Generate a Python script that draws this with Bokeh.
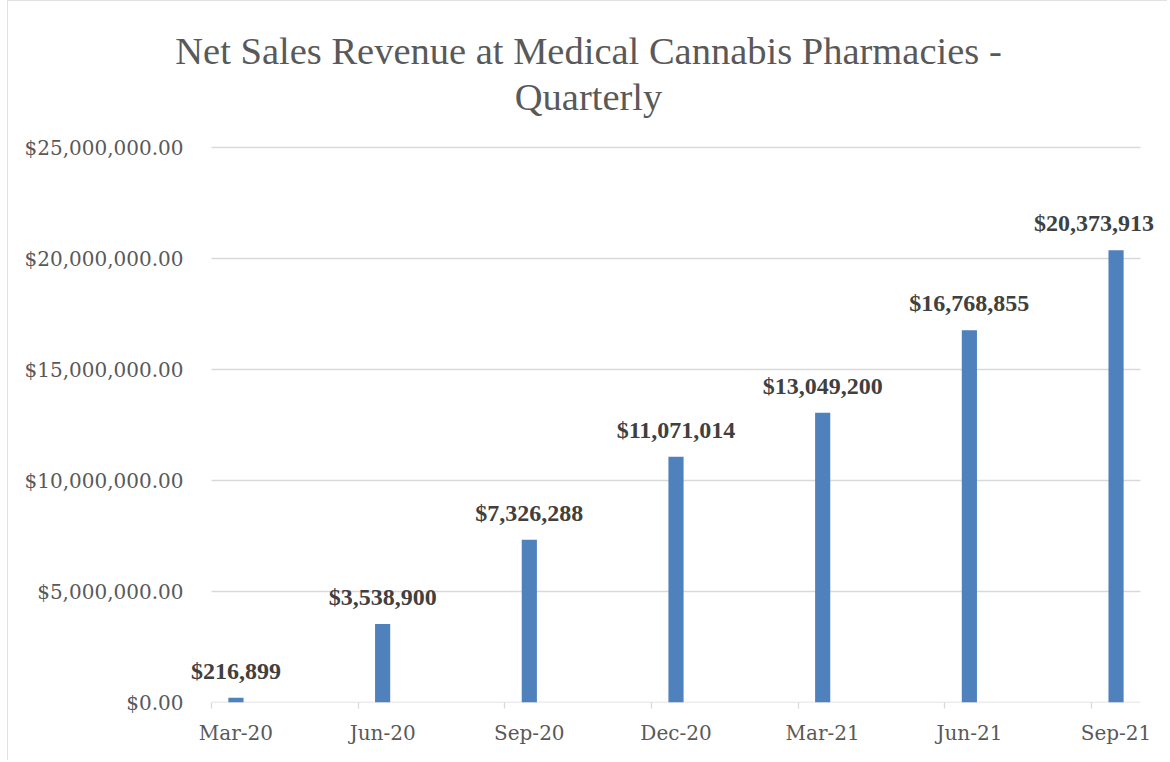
from bokeh.plotting import figure
from bokeh.models import (ColumnDataSource, FixedTicker, NumeralTickFormatter, LinearAxis,
                          Label, LabelSet, Range1d)
from bokeh.embed import file_html
from bokeh.resources import INLINE

# ---- data ----
quarters = ["Mar-20", "Jun-20", "Sep-20", "Dec-20", "Mar-21", "Jun-21", "Sep-21"]
month_index = [0, 3, 6, 9, 12, 15, 18]          # months since Mar-20
revenue = [216899, 3538900, 7326288, 11071014, 13049200, 16768855, 20373913]
value_labels = ["$216,899", "$3,538,900", "$7,326,288", "$11,071,014",
                "$13,049,200", "$16,768,855", "$20,373,913"]
y_ticks = [0, 5000000, 10000000, 15000000, 20000000, 25000000]
label_shift = [0, 0, 0, 0, 0, 0, -22]
n_months = 19
y_max = 25000000

bar_x = [m + 0.5 for m in month_index]
src = ColumnDataSource(dict(x=bar_x, top=revenue, lab=value_labels, dx=label_shift))
grid_src = ColumnDataSource(dict(x0=[0] * len(y_ticks), x1=[n_months] * len(y_ticks),
                                 y=y_ticks))

FONT = "DejaVu Serif"
GRID = "#d9d9d9"

# view ranges padded so that titles and data labels fit inside the frame
FRAME_LEFT = 166
px_per_month = 929 / n_months
x_start = -(211 - FRAME_LEFT) / px_per_month
x_end = n_months + (1163 - 1140) / px_per_month
y_end = y_max + (147 - 8) / 555 * y_max

p = figure(width=1160, height=760, output_backend="svg", toolbar_location=None,
           x_range=Range1d(x_start, x_end), y_range=Range1d(0, y_end),
           min_border_left=FRAME_LEFT - 7, min_border_right=4, min_border_top=8,
           min_border_bottom=58)
p.styles = {"margin-left": "7px", "outline": "1px solid #d9d9d9", "outline-offset": "-1px"}
p.outline_line_color = None
p.background_fill_color = "white"
p.border_fill_color = "white"
p.xgrid.grid_line_color = None
p.ygrid.grid_line_color = None

# gridlines limited to the plot area (0..19 months)
p.segment(x0="x0", x1="x1", y0="y", y1="y", source=grid_src,
          line_color=GRID, line_width=1.3)

p.vbar(x="x", top="top", width=0.31, bottom=0, source=src,
       fill_color="#4f81bd", line_color=None)

labels = LabelSet(x="x", y="top", text="lab", source=src, x_offset="dx", y_offset=19,
                  text_align="center", text_baseline="alphabetic",
                  text_font="Liberation Serif", text_font_style="bold", text_font_size="24px",
                  text_color="#404040")
p.add_layout(labels)

# y axis
p.yaxis.ticker = FixedTicker(ticks=y_ticks)
p.yaxis.formatter = NumeralTickFormatter(format="$0,0.00")
p.yaxis.axis_line_color = None
p.yaxis.major_tick_line_color = None
p.yaxis.minor_tick_line_color = None
p.yaxis.major_label_standoff = FRAME_LEFT - 6 - 183
p.yaxis.major_label_text_font = FONT
p.yaxis.major_label_text_font_size = "20px"
p.yaxis.major_label_text_color = "#595959"

# x axis: tick marks at quarter boundaries
p.xaxis.ticker = FixedTicker(ticks=month_index)
p.xaxis.major_label_overrides = {m: "" for m in month_index}
p.xaxis.major_label_text_font_size = "0px"
p.xaxis.major_label_standoff = 0
p.xaxis.axis_line_color = None
p.xaxis.major_tick_line_color = GRID
p.xaxis.major_tick_line_width = 1.3
p.xaxis.major_tick_in = 0
p.xaxis.major_tick_out = 6
p.xaxis.minor_tick_line_color = None

# x axis labels centered on bars
lab_axis = LinearAxis(ticker=FixedTicker(ticks=bar_x),
                      major_label_overrides={bx: q for bx, q in zip(bar_x, quarters)})
lab_axis.axis_line_color = None
lab_axis.major_tick_line_color = None
lab_axis.minor_tick_line_color = None
lab_axis.major_label_standoff = 6
lab_axis.major_label_text_font = FONT
lab_axis.major_label_text_font_size = "20px"
lab_axis.major_label_text_color = "#595959"
p.add_layout(lab_axis, "below")

# title (two lines)
for txt, yy in [("Net Sales Revenue at Medical Cannabis Pharmacies -", 652),
                ("Quarterly", 606)]:
    p.add_layout(Label(x=588 - FRAME_LEFT, y=yy, x_units="screen", y_units="screen", text=txt,
                       text_align="center", text_baseline="middle",
                       text_font="Liberation Serif", text_font_size="38.5px",
                       text_color="#595959"))

open("out.html", "w").write(file_html(p, INLINE))
